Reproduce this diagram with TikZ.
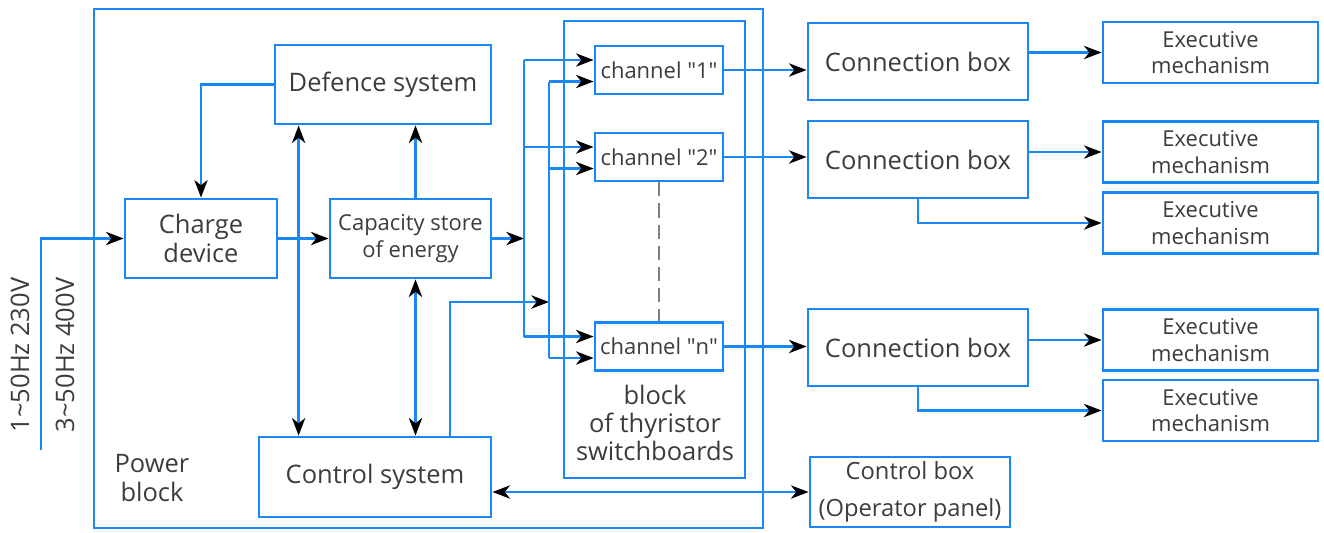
\documentclass[tikz,border=0pt]{standalone}
\usepackage{fontspec}
\setmainfont{Open Sans}
\usetikzlibrary{arrows.meta}
\definecolor{lineblue}{RGB}{25,135,245}
\definecolor{txtgray}{RGB}{60,60,60}
\begin{document}
\begin{tikzpicture}[x=0.02cm, y=-0.02cm,
    box/.style={draw=lineblue, line width=1.6pt, text=txtgray, align=center, inner sep=0pt,
      font=\fontsize{14.5}{16.5}\selectfont},
    smallbox/.style={box, font=\fontsize{12.5}{15}\selectfont},
    lbl/.style={text=txtgray, align=center, inner sep=0pt, font=\fontsize{14.5}{16}\selectfont},
    wire/.style={lineblue, line width=1.6pt},
    arr/.style={wire, -{Stealth[black,length=10pt,width=7.5pt,inset=3pt]}},
    dblarr/.style={wire, {Stealth[black,length=10pt,width=7.5pt,inset=3pt]}-{Stealth[black,length=10pt,width=7.5pt,inset=3pt]}}]
    \useasboundingbox (0,0) rectangle (1324,532);

    % Outer blocks
    \node[box, minimum width=13.38cm, minimum height=10.38cm] (power) at (428.5,268.5) {};
    \node[box, minimum width=3.62cm, minimum height=9.14cm] (thyr) at (654.5,249.5) {};

    % Power block boxes
    \node[box, minimum width=4.32cm, minimum height=1.58cm] (defence) at (383,84.5) {Defence system};
    \node[box, minimum width=3.04cm, minimum height=1.58cm] (charge) at (201,238.5) {Charge\\device};
    \node[smallbox, minimum width=3.22cm, minimum height=1.58cm] (capacity) at (410.5,238.5) {Capacity store\\of energy};
    \node[box, minimum width=4.64cm, minimum height=1.6cm] (control) at (375,477) {Control system};

    % Channels
    \node[smallbox, minimum width=2.56cm, minimum height=0.96cm] (ch1) at (659,70) {channel \textquotedbl 1\textquotedbl};
    \node[smallbox, minimum width=2.56cm, minimum height=0.96cm] (ch2) at (659,157) {channel \textquotedbl 2\textquotedbl};
    \node[smallbox, minimum width=2.56cm, minimum height=0.96cm] (chn) at (659,346.5) {channel \textquotedbl n\textquotedbl};

    % Outside boxes
    \node[box, minimum width=4.4cm, minimum height=1.54cm] (cb1) at (918,61.5) {Connection box};
    \node[box, minimum width=4.4cm, minimum height=1.54cm] (cb2) at (918,159.5) {Connection box};
    \node[box, minimum width=4.4cm, minimum height=1.54cm] (cb3) at (918,347.5) {Connection box};
    \node[smallbox, minimum width=4.3cm, minimum height=1.22cm] (ex1) at (1210.5,52.5) {Executive\\mechanism};
    \node[smallbox, minimum width=4.3cm, minimum height=1.22cm] (ex2) at (1210.5,152) {Executive\\mechanism};
    \node[smallbox, minimum width=4.3cm, minimum height=1.22cm] (ex3) at (1210.5,223) {Executive\\mechanism};
    \node[smallbox, minimum width=4.3cm, minimum height=1.22cm] (ex4) at (1210.5,340) {Executive\\mechanism};
    \node[smallbox, minimum width=4.3cm, minimum height=1.22cm] (ex5) at (1210.5,410.5) {Executive\\mechanism};
    \node[box, minimum width=4cm, minimum height=1.4cm, font=\fontsize{13.5}{16}\selectfont] (ctrlbox) at (910,492) {Control box\\[5pt](Operator panel)};

    % Labels
    \node[lbl] (powerlbl) at (152,478) {Power\\block};
    \node[lbl] (thyrlbl) at (655,423) {block\\of thyristor\\switchboards};
    \node[lbl, rotate=90] (v1) at (20,355) {1\textasciitilde 50Hz 230V};
    \node[lbl, rotate=90] (v3) at (65,355) {3\textasciitilde 50Hz 400V};

    % Points
    \coordinate (in) at (41,450);
    \coordinate (b1) at (524,0);
    \coordinate (b2) at (549,0);
    \coordinate (k) at (549,302);
    \coordinate (d1) at ([xshift=0.5cm]defence.south west);
    \coordinate (c1) at ([xshift=0.1cm]capacity.north);
    \coordinate (c2) at ([xshift=0.1cm]capacity.south);
    \coordinate (cs) at ([xshift=1.5cm]control.north);

    % Inside power block
    \draw[arr] (in) |- (charge.west);
    \draw[arr] (defence.west) -| (charge.north);
    \draw[arr] (charge.east) -- (capacity.west);
    \draw[dblarr] (d1) -- (d1 |- control.north);
    \draw[arr] (c1) -- (c1 |- defence.south);
    \draw[dblarr] (c2) -- (c2 |- control.north);
    \draw[arr] (capacity.east) -- (capacity.east -| b1);
    \draw[arr] (cs) |- (k);

    % Buses to channels
    \foreach \c/\b in {ch1/cb1, ch2/cb2, chn/cb3} {
      \coordinate (up\c) at ([yshift=0.2cm]\c.west);
      \coordinate (dn\c) at ([yshift=-0.23cm]\c.west);
      \draw[arr] (up\c -| b1) -- (up\c);
      \draw[arr] (dn\c -| b2) -- (dn\c);
      \draw[arr] (\c.east) -- (\c.east -| \b.west);
    }
    \draw[wire] (upch1 -| b1) -- (upchn -| b1);
    \draw[wire] (dnch1 -| b2) -- (dnchn -| b2);
    \draw[gray, line width=0.8pt, dash pattern=on 8pt off 4pt] (ch2.south) -- (chn.north);

    % Outputs
    \draw[arr] (cb1.east |- ex1.west) -- (ex1.west);
    \draw[arr] (cb2.east |- ex2.west) -- (ex2.west);
    \draw[arr] (cb2.south) |- (ex3.west);
    \draw[arr] (cb3.east |- ex4.west) -- (ex4.west);
    \draw[arr] (cb3.south) |- (ex5.west);
    \draw[dblarr] (control.east |- ctrlbox.west) -- (ctrlbox.west);
\end{tikzpicture}
\end{document}
